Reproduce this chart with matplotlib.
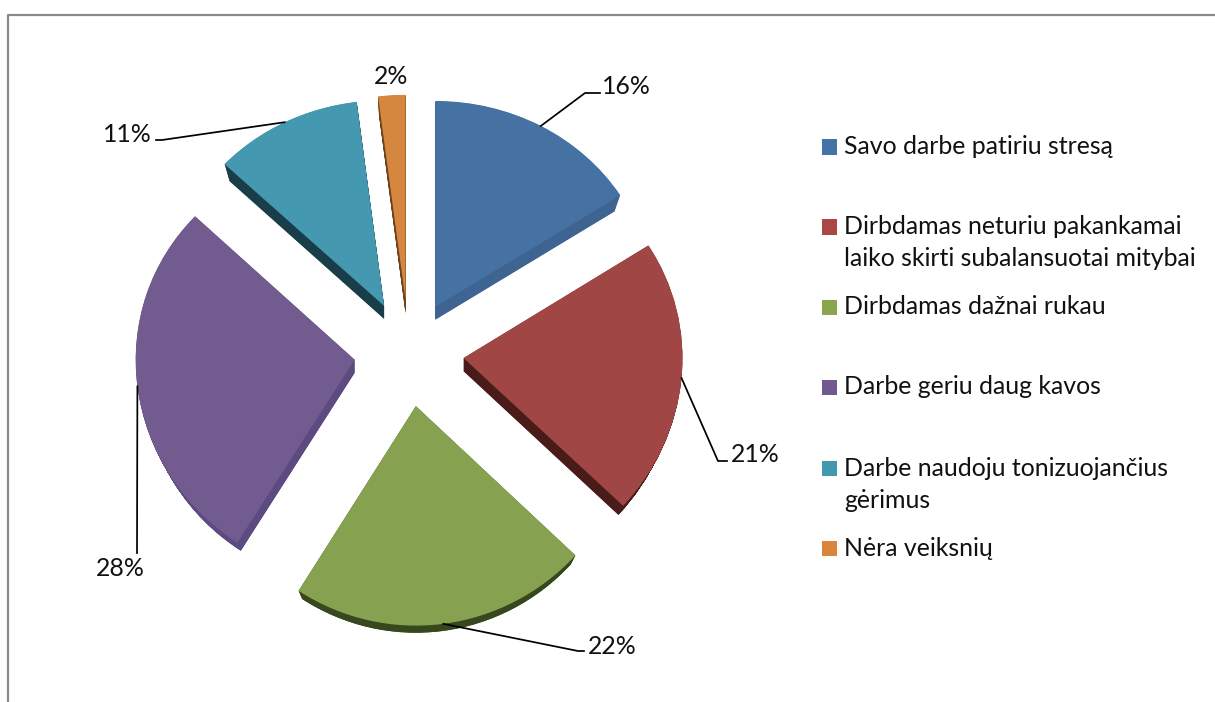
import numpy as np
import matplotlib
matplotlib.use('Agg')
import matplotlib.pyplot as plt
from matplotlib.lines import Line2D
from matplotlib.patches import Rectangle
from matplotlib.transforms import IdentityTransform

plt.rcParams['font.family'] = ['Lato', 'Open Sans', 'DejaVu Sans']

# data
categories = ['Savo darbe patiriu stresą',
              'Dirbdamas neturiu pakankamai\nlaiko skirti subalansuotai mitybai',
              'Dirbdamas dažnai rukau',
              'Darbe geriu daug kavos',
              'Darbe naudoju tonizuojančius\ngėrimus',
              'Nėra veiksnių']
values = [16, 21, 22, 28, 11, 2]
face_colors = ['#4672a3', '#a04645', '#86a250', '#725c8f', '#4499b0', '#d6873f']
side_colors = ['#3e6592', '#4a1c19', '#37481e', '#5d4a80', '#1a3e49', '#6b431c']
legend_colors = ['#4572a7', '#aa4643', '#89a54e', '#71588f', '#4198af', '#db843d']

W, H = 1215, 702
explode = 0.25

# the 3d pie is a bit bigger towards the viewer, so y is slightly non linear
def y_forward(v):
    v = np.asarray(v, dtype=float)
    return 212.5 * v - 4.75 * v ** 2

def y_inverse(f):
    f = np.asarray(f, dtype=float)
    return (212.5 - np.sqrt(np.maximum(212.5 ** 2 - 19.0 * f, 0))) / 9.5

CX, CY, RX = 409, 353, 219

fig = plt.figure(figsize=(W / 100, H / 100), dpi=100)
ax = fig.add_axes([0, 0, 1, 1])

# side of the slices: the same pie stacked many times, shifted down
for step in np.linspace(1, 0.02, 30):
    ax.pie(values, colors=side_colors, explode=[explode] * 6, startangle=90, counterclock=False,
           center=(0, -0.062 * step), radius=1 - 0.03 * step, wedgeprops={'linewidth': 0}, frame=False)

# top of the slices
wedges, _ = ax.pie(values, colors=face_colors, explode=[explode] * 6, startangle=90, counterclock=False,
                   radius=1, wedgeprops={'linewidth': 0})

ax.set_aspect('auto')
ax.set_xlim((0 - CX) / RX, (W - CX) / RX)
ax.set_yscale('function', functions=(y_forward, y_inverse))
ax.set_ylim(y_inverse(CY - H), y_inverse(CY))
ax.axis('off')


def line_px(xs, ys, color='black', lw=1.25):
    fig.add_artist(Line2D(xs, [H - y for y in ys], transform=IdentityTransform(), color=color, lw=lw))


def text_px(x, y, s, **kw):
    fig.text(x / W, 1 - y / H, s, fontsize=FS, color='#111111', va='center', **kw)


FS = 17.9

# chart border, only top and left are inside the crop
line_px([8, 8, W], [H, 15, 15], color='#8a8a8a', lw=1.6)

# percent labels: text position and leader elbow points in pixels
label_x = [626, 755, 612, 120, 127, 391]
label_y = [87, 454, 646, 569, 134, 76]
elbows = [[(585, 93), (600, 93)],
          [(718, 461), (727, 461)],
          [(578, 651), (584, 651)],
          [(137, 553), (137, 553)],
          [(162, 140), (156, 140)],
          []]

for i, w in enumerate(wedges):
    text_px(label_x[i], label_y[i], f'{values[i]}%', ha='center')
    if not elbows[i]:
        continue
    mid = np.radians((w.theta1 + w.theta2) / 2)
    x0, y0 = ax.transData.transform((w.center[0] + np.cos(mid), w.center[1] + np.sin(mid)))
    line_px([x0] + [p[0] for p in elbows[i]], [H - y0] + [p[1] for p in elbows[i]])

# legend
legend_y = [147, 227, 307, 387, 468, 548]
line_gap = 32
for name, color, y in zip(categories, legend_colors, legend_y):
    fig.add_artist(Rectangle((822 / W, 1 - (y + 7.5) / H), 15 / W, 15 / H, transform=fig.transFigure,
                             facecolor=color, edgecolor='none'))
    for k, part in enumerate(name.split('\n')):
        text_px(844, y + k * line_gap, part, ha='left')

fig.savefig('out.png', dpi=100)
